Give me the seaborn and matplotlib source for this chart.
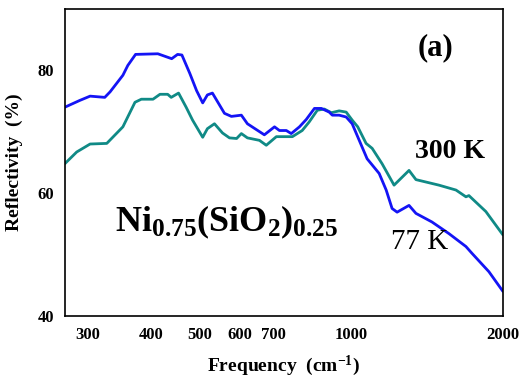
import matplotlib
matplotlib.use("Agg")
import matplotlib.pyplot as plt
import seaborn as sns
import pandas as pd
from matplotlib.ticker import FixedLocator, NullLocator

# 77 K spectrum
freq_77 = [270, 289, 303, 324, 332, 352, 360, 373, 413, 440, 452, 461, 478, 493,
           507, 518, 530, 560, 578, 605, 622, 672, 704, 720, 743, 760, 789, 814,
           845, 872, 904, 917, 946, 977, 1004, 1037, 1075, 1136, 1173, 1205, 1233,
           1302, 1344, 1446, 1563, 1689, 1736, 1876, 2000]
refl_77 = [74.0, 75.1, 75.8, 75.6, 76.5, 79.2, 80.8, 82.6, 82.7, 81.9, 82.6, 82.5, 79.5, 76.7,
           74.7, 76.0, 76.3, 73.0, 72.5, 72.7, 71.3, 69.5, 70.8, 70.2, 70.2, 69.7, 70.8, 72.0,
           73.8, 73.8, 73.2, 72.7, 72.7, 72.4, 71.3, 68.6, 65.6, 63.2, 60.5, 57.5, 56.9,
           58.0, 56.7, 55.3, 53.4, 51.3, 50.2, 47.2, 44.0]

# 300 K spectrum
freq_300 = [270, 285, 303, 327, 352, 372, 383, 404, 417, 432, 439, 454, 470, 484,
            507, 518, 535, 555, 573, 592, 605, 622, 657, 678, 710, 764, 799, 825,
            856, 884, 913, 946, 977, 1004, 1030, 1070, 1100, 1151, 1216, 1302, 1344,
            1493, 1614, 1689, 1712, 1850, 2000]
refl_300 = [64.8, 66.7, 68.0, 68.1, 70.8, 74.8, 75.3, 75.3, 76.1, 76.1, 75.6, 76.3, 74.0, 71.9,
            69.1, 70.5, 71.3, 69.8, 69.0, 68.9, 69.7, 69.0, 68.6, 67.8, 69.2, 69.2, 70.2, 71.6,
            73.5, 73.7, 73.1, 73.4, 73.2, 71.9, 70.8, 68.1, 67.3, 64.8, 61.3, 63.7, 62.2,
            61.3, 60.5, 59.4, 59.6, 57.0, 53.2]

x_ticks = [300, 400, 500, 600, 700, 1000, 2000]
y_ticks = [40, 60, 80]

sns.set_style("white")
plt.rcParams["font.family"] = ["Liberation Serif", "DejaVu Serif"]
plt.rcParams["font.weight"] = "bold"
plt.rcParams["text.color"] = "black"
plt.rcParams["axes.labelcolor"] = "black"
plt.rcParams["xtick.color"] = "black"
plt.rcParams["ytick.color"] = "black"
plt.rcParams["mathtext.fontset"] = "custom"
plt.rcParams["mathtext.rm"] = "Liberation Serif:bold"
plt.rcParams["mathtext.bf"] = "Liberation Serif:bold"
plt.rcParams["mathtext.it"] = "Liberation Serif:bold"

df77 = pd.DataFrame({"freq": freq_77, "refl": refl_77})
df300 = pd.DataFrame({"freq": freq_300, "refl": refl_300})

fig = plt.figure(figsize=(5.19, 3.9), dpi=100)
ax = fig.add_axes([0.125, 0.19, 0.844, 0.787])

sns.lineplot(data=df300, x="freq", y="refl", ax=ax, color="#108a86", lw=2, sort=False)
sns.lineplot(data=df77, x="freq", y="refl", ax=ax, color="#1414f5", lw=2, sort=False)

ax.set_xscale("log")
ax.set_xlim(270, 2000)
ax.set_ylim(40, 90)
ax.xaxis.set_major_locator(FixedLocator(x_ticks))
ax.xaxis.set_minor_locator(NullLocator())
ax.set_xticklabels([str(t) for t in x_ticks])
ax.set_yticks(y_ticks)
ax.tick_params(direction="in", length=3, width=1, labelsize=12, pad=8)
for lab in ax.get_xticklabels() + ax.get_yticklabels():
    lab.set_fontweight("bold")
for sp in ax.spines.values():
    sp.set_linewidth(1.2)
    sp.set_color("black")

ax.set_xlabel(r"Frequency  (cm$^{\mathregular{-1}}$)", fontsize=14, fontweight="bold", labelpad=8)
ax.set_ylabel("Reflectivity  (%)", fontsize=14, fontweight="bold", labelpad=10)

ax.text(0.845, 0.873, "(a)", transform=ax.transAxes, fontsize=22, fontweight="bold",
        ha="center", va="center")
ax.text(0.879, 0.534, "300 K", transform=ax.transAxes, fontsize=20, fontweight="bold",
        ha="center", va="center")
ax.text(0.811, 0.241, "77 K", transform=ax.transAxes, fontsize=21, fontweight="normal",
        ha="center", va="center")
ax.text(0.114, 0.274, r"Ni$_{\mathregular{0.75}}$(SiO$_{\mathregular{2}}$)$_{\mathregular{0.25}}$",
        transform=ax.transAxes, fontsize=26, fontweight="bold", ha="left", va="baseline")

fig.savefig("out.png", dpi=100)
